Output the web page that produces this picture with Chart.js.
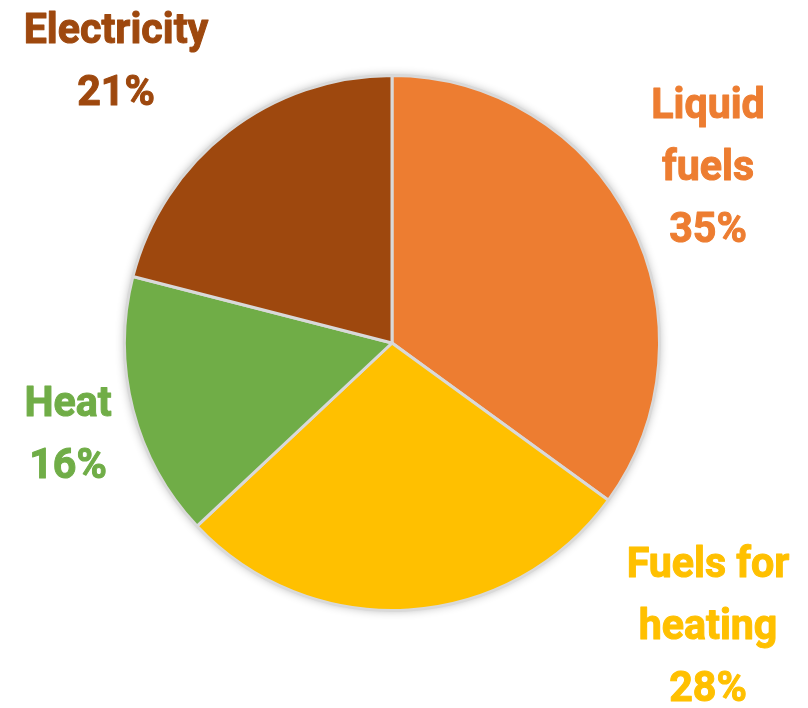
<!DOCTYPE html>
<html lang="en">
<head>
    <meta charset="UTF-8">
    <title>Energy use pie</title>
    <script src="https://cdn.jsdelivr.net/npm/chart.js"></script>
    <style> html, body { margin: 0; padding: 0; background: #fff; } #wrap { width: 808px; height: 708px; } </style>
</head>
<body>
    <div id="wrap"><canvas id="pieChart" width="808" height="708"></canvas></div>

    <script>
        // data
        const categories = ['Liquid fuels', 'Fuels for heating', 'Heat', 'Electricity'];
        const shares = [35, 28, 16, 21];
        const labelLines = [['Liquid', 'fuels'], ['Fuels for', 'heating'], ['Heat'], ['Electricity']];
        const colors = ['#ED7D31', '#FFC000', '#70AD47', '#9E480E'];

        // where each label block sits (center x, first baseline y)
        const labelAnchors = [[708, 118], [708, 577], [68, 416], [116, 43]];

        const pieShadow = {
            id: 'pieShadow',
            beforeDatasetsDraw(chart) {
                const arc = chart.getDatasetMeta(0).data[0];
                if (!arc) return;
                const ctx = chart.ctx;
                ctx.save();
                ctx.shadowColor = 'rgba(0,0,0,0.3)';
                ctx.shadowBlur = 10;
                ctx.fillStyle = '#d9d9d9';
                ctx.beginPath();
                ctx.arc(arc.x, arc.y, arc.outerRadius, 0, Math.PI * 2);
                ctx.fill();
                ctx.restore();
            }
        };

        const outsideLabels = {
            id: 'outsideLabels',
            afterDraw(chart) {
                const ctx = chart.ctx;
                ctx.save();
                ctx.font = 'bold 42px Roboto';
                ctx.textAlign = 'center';
                ctx.textBaseline = 'alphabetic';
                ctx.lineJoin = 'round';
                ctx.lineWidth = 1;
                categories.forEach((c, i) => {
                    const lines = labelLines[i].concat([shares[i] + '%']);
                    const [cx, y0] = labelAnchors[i];
                    ctx.fillStyle = colors[i];
                    ctx.strokeStyle = colors[i];
                    lines.forEach((t, k) => {
                        ctx.save();
                        ctx.translate(cx, y0 + k * 62);
                        ctx.scale(0.98, 1);
                        ctx.fillText(t, 0, 0);
                        ctx.strokeText(t, 0, 0);
                        ctx.restore();
                    });
                });
                ctx.restore();
            }
        };

        new Chart(document.getElementById('pieChart'), {
            type: 'pie',
            data: { labels: categories, datasets: [{ data: shares, backgroundColor: colors, borderColor: '#d9d9d9', borderWidth: 3 }] },
            options: {
                responsive: false, animation: false,
                layout: { padding: { left: 123, right: 147, top: 74, bottom: 96 } },
                plugins: { legend: { display: false }, tooltip: { enabled: false } }
            },
            plugins: [pieShadow, outsideLabels]
        });
    </script>
</body>
</html>
